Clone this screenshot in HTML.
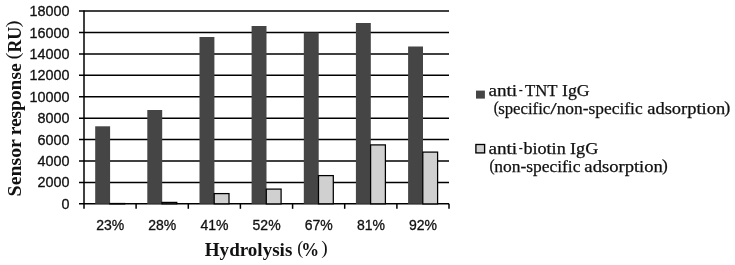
<!DOCTYPE html>
<html lang="en"><head><meta charset="utf-8"><title>Sensor response vs hydrolysis</title>
<style>html,body{margin:0;padding:0;background:#fff;}svg{display:block;}.sans{font-family:"Liberation Sans",sans-serif;font-size:14px;fill:#111;stroke:#111;stroke-width:.3px;}.ser{font-family:"Liberation Serif",serif;fill:#111;}</style></head><body>
<svg width="735" height="265" viewBox="0 0 735 265">
<rect x="0" y="0" width="735" height="265" fill="#fff"/>
<g stroke="#000" stroke-width="1.5" fill="none">
<line x1="79" y1="11.10" x2="449.0" y2="11.10"/>
<line x1="79" y1="32.52" x2="449.0" y2="32.52"/>
<line x1="79" y1="53.93" x2="449.0" y2="53.93"/>
<line x1="79" y1="75.35" x2="449.0" y2="75.35"/>
<line x1="79" y1="96.77" x2="449.0" y2="96.77"/>
<line x1="79" y1="118.18" x2="449.0" y2="118.18"/>
<line x1="79" y1="139.60" x2="449.0" y2="139.60"/>
<line x1="79" y1="161.02" x2="449.0" y2="161.02"/>
<line x1="79" y1="182.43" x2="449.0" y2="182.43"/>
<line x1="79" y1="203.85" x2="449.0" y2="203.85"/>
<line x1="84.0" y1="10.5" x2="84.0" y2="208.8"/>
<line x1="136.1" y1="203.8" x2="136.1" y2="208.8"/>
<line x1="188.3" y1="203.8" x2="188.3" y2="208.8"/>
<line x1="240.4" y1="203.8" x2="240.4" y2="208.8"/>
<line x1="292.6" y1="203.8" x2="292.6" y2="208.8"/>
<line x1="344.7" y1="203.8" x2="344.7" y2="208.8"/>
<line x1="396.9" y1="203.8" x2="396.9" y2="208.8"/>
<line x1="449.0" y1="203.8" x2="449.0" y2="208.8"/>
</g>
<g>
<rect x="95.2" y="126.3" width="14.9" height="77.5" fill="#454545"/>
<rect x="109.9" y="203.5" width="14.8" height="0.4" fill="#d0d0d0" stroke="#000" stroke-width="1.25"/>
<rect x="147.3" y="110.0" width="14.9" height="93.8" fill="#454545"/>
<rect x="162.0" y="202.4" width="14.8" height="1.4" fill="#d0d0d0" stroke="#000" stroke-width="1.25"/>
<rect x="199.5" y="37.0" width="14.9" height="166.8" fill="#454545"/>
<rect x="214.2" y="193.6" width="14.8" height="10.2" fill="#d0d0d0" stroke="#000" stroke-width="1.25"/>
<rect x="251.6" y="26.0" width="14.9" height="177.8" fill="#454545"/>
<rect x="266.3" y="189.1" width="14.8" height="14.8" fill="#d0d0d0" stroke="#000" stroke-width="1.25"/>
<rect x="303.8" y="32.5" width="14.9" height="171.3" fill="#454545"/>
<rect x="318.5" y="175.6" width="14.8" height="28.2" fill="#d0d0d0" stroke="#000" stroke-width="1.25"/>
<rect x="355.9" y="23.0" width="14.9" height="180.8" fill="#454545"/>
<rect x="370.6" y="144.9" width="14.8" height="58.9" fill="#d0d0d0" stroke="#000" stroke-width="1.25"/>
<rect x="408.1" y="46.5" width="14.9" height="157.3" fill="#454545"/>
<rect x="422.8" y="152.1" width="14.8" height="51.8" fill="#d0d0d0" stroke="#000" stroke-width="1.25"/>
</g>
<g class="sans" text-anchor="end">
<text x="69.5" y="16.1" textLength="40.00" lengthAdjust="spacingAndGlyphs">18000</text>
<text x="69.5" y="37.5" textLength="40.00" lengthAdjust="spacingAndGlyphs">16000</text>
<text x="69.5" y="58.9" textLength="40.00" lengthAdjust="spacingAndGlyphs">14000</text>
<text x="69.5" y="80.3" textLength="40.00" lengthAdjust="spacingAndGlyphs">12000</text>
<text x="69.5" y="101.8" textLength="40.00" lengthAdjust="spacingAndGlyphs">10000</text>
<text x="69.5" y="123.2" textLength="32.00" lengthAdjust="spacingAndGlyphs">8000</text>
<text x="69.5" y="144.6" textLength="32.00" lengthAdjust="spacingAndGlyphs">6000</text>
<text x="69.5" y="166.0" textLength="32.00" lengthAdjust="spacingAndGlyphs">4000</text>
<text x="69.5" y="187.4" textLength="32.00" lengthAdjust="spacingAndGlyphs">2000</text>
<text x="69.5" y="208.8" textLength="8.00" lengthAdjust="spacingAndGlyphs">0</text>
</g>
<g class="sans" text-anchor="middle">
<text x="110.2" y="230.1">23%</text>
<text x="162.3" y="230.1">28%</text>
<text x="214.5" y="230.1">41%</text>
<text x="266.6" y="230.1">52%</text>
<text x="318.7" y="230.1">67%</text>
<text x="370.9" y="230.1">81%</text>
<text x="423.0" y="230.1">92%</text>
</g>
<text class="ser" font-weight="bold" font-size="18" y="255.5"><tspan x="204.79" textLength="87.52" lengthAdjust="spacingAndGlyphs">Hydrolysis</tspan> <tspan x="297.23" dy="-1.8" font-size="18.5" font-weight="normal" textLength="6.02" lengthAdjust="spacingAndGlyphs">(</tspan><tspan x="301.17" dy="1.8" textLength="17.84" lengthAdjust="spacingAndGlyphs">%</tspan> <tspan x="321.27" dy="-1.8" font-size="18.5" font-weight="normal" textLength="6.45" lengthAdjust="spacingAndGlyphs">)</tspan></text>
<text class="ser" font-weight="bold" font-size="18" transform="translate(20.6 300) rotate(-90)" y="0"><tspan x="103.64" textLength="56.92" lengthAdjust="spacingAndGlyphs">Sensor</tspan> <tspan x="164.68" textLength="71.94" lengthAdjust="spacingAndGlyphs">response</tspan> <tspan x="240.76" dy="-1.8" font-size="19" font-weight="normal" textLength="6.58" lengthAdjust="spacingAndGlyphs">(</tspan><tspan x="247.42" dy="2.4" font-size="19.5" textLength="25.91" lengthAdjust="spacingAndGlyphs">RU</tspan><tspan x="272.62" dy="-2.4" font-size="19" font-weight="normal" textLength="7.06" lengthAdjust="spacingAndGlyphs">)</tspan></text>
<rect x="476" y="90.6" width="8.9" height="8.0" fill="#454545"/>
<text class="ser" font-size="16" y="96.2" stroke="#111" stroke-width="0.25"><tspan x="488.41" textLength="28.78" lengthAdjust="spacingAndGlyphs">anti</tspan><tspan x="518.63" dy="-1" textLength="4.10" lengthAdjust="spacingAndGlyphs" stroke="none">-</tspan><tspan x="524.91" dy="1" textLength="32.22" lengthAdjust="spacingAndGlyphs">TNT</tspan> <tspan x="562.06" textLength="27.63" lengthAdjust="spacingAndGlyphs">IgG</tspan></text>
<text class="ser" font-size="16" y="114.4" stroke="#111" stroke-width="0.25"><tspan x="493.72" dy="-1.8" font-size="16.5" textLength="4.93" lengthAdjust="spacingAndGlyphs">(</tspan><tspan x="498.17" dy="1.8" textLength="52.11" lengthAdjust="spacingAndGlyphs">specific</tspan><tspan x="550.26" textLength="6.39" lengthAdjust="spacingAndGlyphs">/</tspan><tspan x="556.68" textLength="85.94" lengthAdjust="spacingAndGlyphs">non-specific</tspan> <tspan x="647.26" textLength="77.87" lengthAdjust="spacingAndGlyphs">adsorption</tspan><tspan x="724.28" dy="-1.8" font-size="16.5" textLength="6.02" lengthAdjust="spacingAndGlyphs">)</tspan></text>
<rect x="475.9" y="144.5" width="8.7" height="8.4" fill="#d0d0d0" stroke="#000" stroke-width="1.35"/>
<text class="ser" font-size="16" y="154.1" stroke="#111" stroke-width="0.25"><tspan x="488.41" textLength="28.78" lengthAdjust="spacingAndGlyphs">anti</tspan><tspan x="518.63" dy="-1" textLength="4.10" lengthAdjust="spacingAndGlyphs" stroke="none">-</tspan><tspan x="523.42" dy="1" textLength="42.30" lengthAdjust="spacingAndGlyphs">biotin</tspan> <tspan x="569.98" textLength="28.32" lengthAdjust="spacingAndGlyphs">IgG</tspan></text>
<text class="ser" font-size="16" y="172.4" stroke="#111" stroke-width="0.25"><tspan x="489.44" dy="-1.8" font-size="16.5" textLength="5.11" lengthAdjust="spacingAndGlyphs">(</tspan><tspan x="494.24" dy="1.8" textLength="86.23" lengthAdjust="spacingAndGlyphs">non-specific</tspan> <tspan x="584.38" textLength="78.50" lengthAdjust="spacingAndGlyphs">adsorption</tspan><tspan x="662.05" dy="-1.8" font-size="16.5" textLength="5.78" lengthAdjust="spacingAndGlyphs">)</tspan></text>
</svg></body></html>
